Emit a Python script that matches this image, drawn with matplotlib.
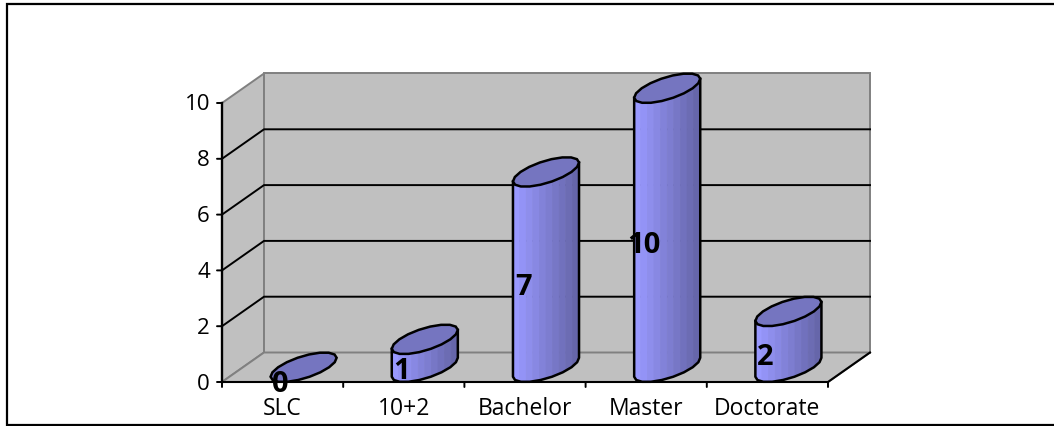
import numpy as np
import matplotlib
matplotlib.use('Agg')
import matplotlib.pyplot as plt
from matplotlib.lines import Line2D
from matplotlib.patches import Polygon

plt.rcParams['font.family'] = ['Open Sans', 'DejaVu Sans']

# data
categories = ['SLC', '10+2', 'Bachelor', 'Master', 'Doctorate']
values = [0, 1, 7, 10, 2]
y_ticks = [0, 2, 4, 6, 8, 10]

W, H = 1054, 426
fig = plt.figure(figsize=(W / 100, H / 100), dpi=100)
fig.patch.set_facecolor('white')

# outer frame, open on the right side
frame_x = [W, 7, 7, W]
frame_y = [H - 4, H - 4, H - 424.5, H - 424.5]
fig.add_artist(Line2D([7 / W, 1], [(H - 2.5) / H] * 2, transform=fig.transFigure, color='#c8c8c8', lw=0.8))
fig.add_artist(Line2D(np.array(frame_x) / W, np.array(frame_y) / H, transform=fig.transFigure,
                      color='black', lw=1.6, solid_joinstyle='miter'))

# axes = front plane of the 3d box
ax = fig.add_axes([222 / W, (H - 382) / H, 606 / W, 279 / H])
ax.set_xlim(-0.5, 4.5)
ax.set_ylim(0, 10)
ax.axis('off')

# depth of the box in data units
dx = 42 / (606 / 5)
dy = 29.5 / 27.9
x0, x1 = -0.5, 4.5
wall = '#c0c0c0'
edge = '#808080'

def poly(pts, zorder, **kw):
    ax.add_patch(Polygon(pts, closed=True, clip_on=False, zorder=zorder, **kw))

# walls and floor
poly([(x0, 0), (x0 + dx, dy), (x0 + dx, 10 + dy), (x0, 10)], 1, facecolor=wall, edgecolor=edge, linewidth=1.4)
poly([(x0 + dx, dy), (x1 + dx, dy), (x1 + dx, 10 + dy), (x0 + dx, 10 + dy)], 1, facecolor=wall, edgecolor=edge, linewidth=1.4)
poly([(x0, 0), (x1, 0), (x1 + dx, dy), (x0 + dx, dy)], 1, facecolor=wall, edgecolor=edge, linewidth=1.4)

# gridlines
for v in y_ticks[1:-1]:
    ax.plot([x0, x0 + dx, x1 + dx], [v, v + dy, v + dy], color='black', lw=1.4, clip_on=False, zorder=2)

# axis lines and ticks
ax.plot([x0, x0], [0, 10], color='black', lw=1.7, clip_on=False, zorder=3)
ax.plot([x0, x1, x1 + dx], [0, 0, dy], color='black', lw=1.5, clip_on=False, zorder=3)
for v in y_ticks:
    ax.annotate('', xy=(x0, v), xytext=(-5, 0), textcoords='offset pixels', annotation_clip=False,
                arrowprops=dict(arrowstyle='-', color='black', lw=1.4, shrinkA=0, shrinkB=0))
    ax.annotate(str(v), xy=(x0, v), xytext=(-12, -2), textcoords='offset pixels', ha='right', va='center',
                fontsize=16, color='black', annotation_clip=False)
for i in range(len(categories) + 1):
    ax.annotate('', xy=(x0 + i, 0), xytext=(0, -5), textcoords='offset pixels', annotation_clip=False,
                arrowprops=dict(arrowstyle='-', color='black', lw=1.4, shrinkA=0, shrinkB=0))
for i, c in enumerate(categories):
    ax.annotate(c, xy=(i, 0), xytext=(0, -27), textcoords='offset pixels', ha='center', va='center',
                fontsize=16.5, color='black', annotation_clip=False)

# cylinders
half_w = 25.5 / (606 / 5)
t = np.linspace(0, 2 * np.pi, 19)[:-1]
ex = half_w * np.cos(t) + dx / 2 * np.sin(t)
ey = dy / 2 * np.sin(t)
right_i = np.argmax(ex)
left_i = np.argmin(ex)
# front half of the ring, going left to right
front = []
for k in range(len(t)):
    idx = (left_i + k) % len(t)
    front.append(idx)
    if idx == right_i:
        break

c_left = np.array([0x99, 0x99, 0xff]) / 255
c_right = np.array([0x66, 0x66, 0xaa]) / 255

for i, v in enumerate(values):
    cx = i + dx / 2
    cy = dy / 2
    if v > 0:
        xs = cx + ex[front]
        ys = cy + ey[front]
        # shaded strips of the side
        strips = 10
        sx = np.linspace(xs[0], xs[-1], strips + 1)
        sy = np.interp(sx, xs, ys)
        for s in range(strips):
            f = s / (strips - 1)
            col = c_left * (1 - f) + c_right * f
            poly([(sx[s], sy[s]), (sx[s + 1], sy[s + 1]), (sx[s + 1], sy[s + 1] + v), (sx[s], sy[s] + v)],
                 4, facecolor=col, edgecolor=col, linewidth=0.5)
        # outline of the side
        ax.plot(np.r_[xs[0], xs, xs[-1]], np.r_[ys[0] + v, ys, ys[-1] + v], color='black', lw=1.8,
                clip_on=False, zorder=5)
    poly(np.c_[cx + ex, cy + ey + v], 6, facecolor='#7575c0', edgecolor='black', linewidth=1.8)

# data labels
for i, v in enumerate(values):
    ax.annotate(str(v), xy=(i, v / 2), xytext=(-2, -3), textcoords='offset pixels', ha='center', va='center',
                fontsize=21, fontweight='bold', color='black', zorder=8, annotation_clip=False)

fig.savefig('out.png', dpi=100)
